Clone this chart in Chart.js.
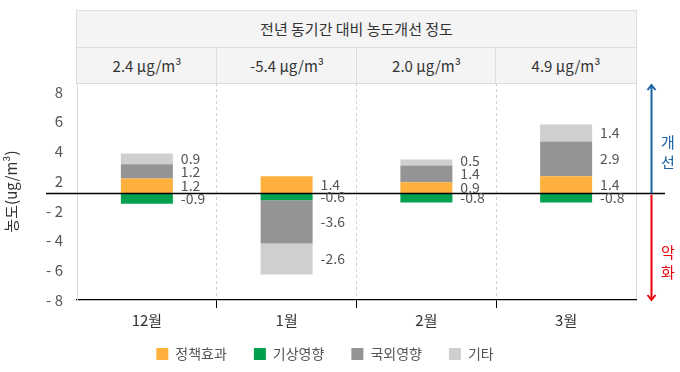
<!DOCTYPE html>
<html><head><meta charset="utf-8">
<script src="https://cdn.jsdelivr.net/npm/chart.js@4/dist/chart.umd.min.js"></script>
<style>
html,body{margin:0;padding:0;background:#fff;}
#wrap{position:relative;width:680px;height:372px;overflow:hidden;font-family:"Noto Sans CJK KR","Noto Sans",sans-serif;}
#c{position:absolute;left:0;top:0;}
.cell{position:absolute;box-sizing:border-box;border:1px solid #dcdcdc;background:#f4f4f4;color:#333;font-size:15px;text-align:center;}
.side{position:absolute;font-size:15px;line-height:20px;width:20px;text-align:center;}
</style></head>
<body><div id="wrap">
<canvas id="c" width="680" height="372"></canvas>
<div class="side" id="up" style="left:658px;top:132px;color:#1a62a3;">개<br>선</div>
<div class="side" id="down" style="left:658px;top:242px;color:#e8000b;">악<br>화</div>
</div>
<script>
const categories = ['12월', '1월', '2월', '3월'];
const seriesNames = ['정책효과', '기상영향', '국외영향', '기타'];
const policyEffect = [1.2, 1.4, 0.9, 1.4];
const weatherEffect = [-0.9, -0.6, -0.8, -0.8];
const foreignEffect = [1.2, -3.6, 1.4, 2.9];
const otherEffect = [0.9, -2.6, 0.5, 1.4];
const yTickLabels = ['- 8', '- 6', '- 4', '- 2', '2', '4', '6', '8'];
const headerTitle = '전년 동기간 대비 농도개선 정도';
const headerValues = ['2.4 µg/m³', '-5.4 µg/m³', '2.0 µg/m³', '4.9 µg/m³'];
const yTitle = '농도(ug/m³)';

const colors = ['#fdb13c', '#00a04f', '#949494', '#cfcfcf'];
const seriesData = [policyEffect, weatherEffect, foreignEffect, otherEffect];

Chart.defaults.font.family = '"Noto Sans CJK KR","Noto Sans",sans-serif';

const isEdge = c => c.type !== 'tick' || c.index === 0;

const segLabels = {
  id: 'segLabels',
  beforeDraw(chart) {
    chart.scales.x._computeLabelArea = () => undefined;
  },
  afterDatasetsDraw(chart) {
    const ctx = chart.ctx;
    const y = chart.scales.y;
    const y0 = Math.round(y.getPixelForValue(0)) + 0.5;
    const ca = chart.chartArea;
    ctx.save();
    ctx.strokeStyle = '#000';
    ctx.lineWidth = 1.3;
    ctx.beginPath(); ctx.moveTo(ca.left - 31, y0); ctx.lineTo(ca.right + 29, y0); ctx.stroke();
    const ax = ca.right + 15.5;
    const top = ca.top + 2, bot = ca.bottom;
    ctx.lineWidth = 2;
    ctx.strokeStyle = '#1a62a3';
    ctx.beginPath(); ctx.moveTo(ax, y0); ctx.lineTo(ax, top); ctx.stroke();
    ctx.beginPath(); ctx.moveTo(ax - 4, top + 5); ctx.lineTo(ax, top); ctx.lineTo(ax + 4, top + 5); ctx.stroke();
    ctx.strokeStyle = '#e8000b';
    ctx.beginPath(); ctx.moveTo(ax, y0 + 1); ctx.lineTo(ax, bot); ctx.stroke();
    ctx.beginPath(); ctx.moveTo(ax - 4, bot - 5); ctx.lineTo(ax, bot); ctx.lineTo(ax + 4, bot - 5); ctx.stroke();

    ctx.font = '14px "Noto Sans CJK KR","Noto Sans",sans-serif';
    ctx.fillStyle = '#555';
    ctx.textBaseline = 'middle';
    ctx.textAlign = 'left';
    for (let i = 0; i < chart.data.labels.length; i++) {
      const pos = [], neg = [];
      chart.data.datasets.forEach((ds, di) => {
        const el = chart.getDatasetMeta(di).data[i];
        const v = ds.data[i];
        const item = { y: (el.y + el.base) / 2, x: el.x + el.width / 2 + 8, text: v.toFixed(1) };
        (v >= 0 ? pos : neg).push(item);
      });
      pos.sort((a, b) => b.y - a.y);
      for (let k = 1; k < pos.length; k++) if (pos[k].y > pos[k - 1].y - 13) pos[k].y = pos[k - 1].y - 13;
      neg.sort((a, b) => a.y - b.y);
      for (let k = 1; k < neg.length; k++) if (neg[k].y < neg[k - 1].y + 13) neg[k].y = neg[k - 1].y + 13;
      pos.concat(neg).forEach(it => ctx.fillText(it.text, it.x, it.y));
    }
    ctx.restore();
  }
};

const chart = new Chart(document.getElementById('c'), {
  type: 'bar',
  data: {
    labels: categories,
    datasets: seriesNames.map((name, i) => ({
      label: name,
      data: seriesData[i],
      backgroundColor: colors[i],
      borderWidth: 0,
      yAxisID: 'y',
      categoryPercentage: 1,
      barPercentage: 0.372
    }))
  },
  options: {
    responsive: false,
    animation: false,
    layout: { padding: { left: 14, right: 44, top: 83, bottom: 1 } },
    plugins: {
      legend: {
        position: 'bottom',
        labels: { boxWidth: 12, boxHeight: 12, color: '#555', font: { size: 14 }, padding: 27 }
      },
      tooltip: { enabled: false }
    },
    scales: {
      x: {
        stacked: true,
        offset: true,
        grid: {
          offset: true,
          drawOnChartArea: true,
          drawTicks: true,
          tickLength: 8,
          lineWidth: 1,
          color: c => isEdge(c) ? '#d9d9d9' : '#cfcfcf',
          tickColor: c => isEdge(c) ? 'rgba(0,0,0,0)' : '#000',
          tickWidth: 1
        },
        border: { display: true, color: '#000', width: 1.3, dash: c => isEdge(c) ? [] : [3, 3] },
        ticks: { color: '#333', font: { size: 15 }, padding: 3 },
        afterFit(s) { s.height = 20; }
      },
      y: {
        type: 'linear',
        display: false,
        stacked: true,
        min: -8.9167,
        max: 9.1667
      },
      yl: {
        type: 'linear',
        position: 'left',
        min: 0,
        max: 7.303,
        afterBuildTicks(s) { s.ticks = yTickLabels.map((_, i) => ({ value: i })); },
        ticks: { callback: v => yTickLabels[v], color: '#555', font: { size: 15 }, padding: 14 },
        grid: { display: false, drawTicks: false },
        border: { display: true, color: '#d9d9d9', width: 1 },
        title: { display: true, text: yTitle, color: '#333', font: { size: 15 }, padding: { top: -12, bottom: 0 } },
        afterFit(s) { s.width = 63; }
      }
    }
  },
  plugins: [segLabels]
});

(function buildHeader() {
  const wrap = document.getElementById('wrap');
  const xs = chart.scales.x;
  const left = Math.round(xs.left) - 1, right = Math.round(xs.right) + 1;
  const topY = 10, midY = 47, botY = Math.round(chart.chartArea.top) + 1;
  const t = document.createElement('div');
  t.className = 'cell';
  t.style.cssText = `left:${left}px;top:${topY}px;width:${right - left}px;height:${midY - topY + 1}px;line-height:${midY - topY - 2}px;`;
  t.textContent = headerTitle;
  wrap.appendChild(t);
  const n = categories.length;
  const w = (xs.right - xs.left) / n;
  for (let i = 0; i < n; i++) {
    const l = Math.round(xs.left + i * w) - 1;
    const r = Math.round(xs.left + (i + 1) * w) + 1;
    const d = document.createElement('div');
    d.className = 'cell';
    d.style.cssText = `left:${l}px;top:${midY}px;width:${r - l}px;height:${botY - midY}px;line-height:${botY - midY - 2}px;`;
    d.textContent = headerValues[i];
    wrap.appendChild(d);
  }
})();
</script>
</body></html>
